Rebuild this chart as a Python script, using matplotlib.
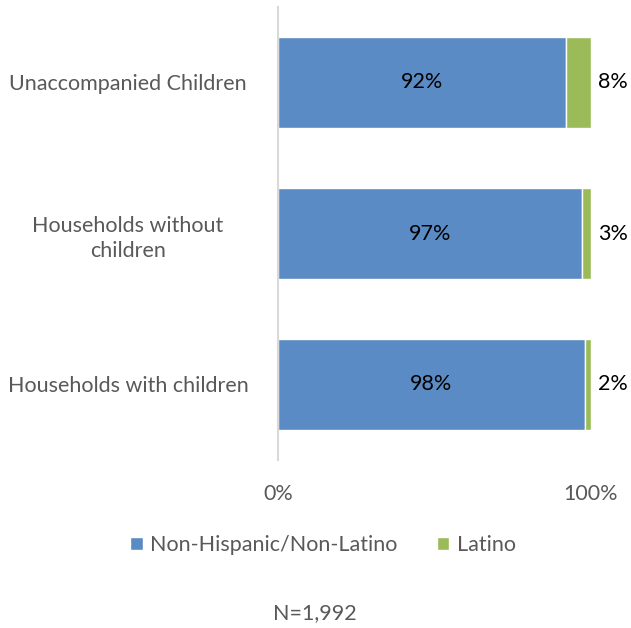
import matplotlib
matplotlib.use("Agg")
import matplotlib.pyplot as plt

categories = ["Households with children", "Households without\nchildren", "Unaccompanied Children"]
non_latino = [98, 97, 92]
latino = [2, 3, 8]
series_names = ["Non-Hispanic/Non-Latino", "Latino"]
xtick_labels = ["0%", "100%"]
note = "N=1,992"

plt.rcParams['font.family'] = ['Lato', 'DejaVu Sans']
blue = "#5B8BC4"
green = "#9BBB59"
gray = "#595959"
fs = 15.5

fig = plt.figure(figsize=(6.31, 6.28), dpi=100)
ax = fig.add_axes([278/631, 1-460/628, 313/631, 453/628])
y = range(len(categories))
b1 = ax.barh(y, non_latino, height=0.6, color=blue, edgecolor="white", linewidth=1, label=series_names[0])
b2 = ax.barh(y, latino, left=non_latino, height=0.6, color=green, edgecolor="white", linewidth=1, label=series_names[1])
ax.set_xlim(0, 100)
ax.set_ylim(-0.5, 2.5)
for i in y:
    ax.text(non_latino[i]/2, i, f"{non_latino[i]}%", ha="center", va="center", fontsize=fs, color="black")
    ax.text(100 + 7, i, f"{latino[i]}%", ha="center", va="center", fontsize=fs, color="black")
ax.set_yticks(list(y))
ax.set_yticklabels(categories, fontsize=fs, color=gray, ha="center", linespacing=1.35)
ax.tick_params(axis="y", length=0, pad=150*0.72)
ax.set_xticks([0, 100])
ax.set_xticklabels(xtick_labels, fontsize=fs, color=gray)
ax.tick_params(axis="x", length=0, pad=17)
for s in ["top", "right", "bottom"]:
    ax.spines[s].set_visible(False)
ax.spines["left"].set_color("#D9D9D9")
ax.spines["left"].set_linewidth(1.5)

fig.legend(handles=[b1, b2], labels=series_names, loc="center", bbox_to_anchor=(323/631, 1-545/628),
           ncol=2, frameon=False, fontsize=fs, labelcolor=gray, handlelength=0.6, handleheight=0.6,
           handletextpad=0.35, columnspacing=1.8)
fig.text(315/631, 1-613/628, note, ha="center", va="center", fontsize=fs, color=gray)
fig.savefig("out.png", dpi=100)
